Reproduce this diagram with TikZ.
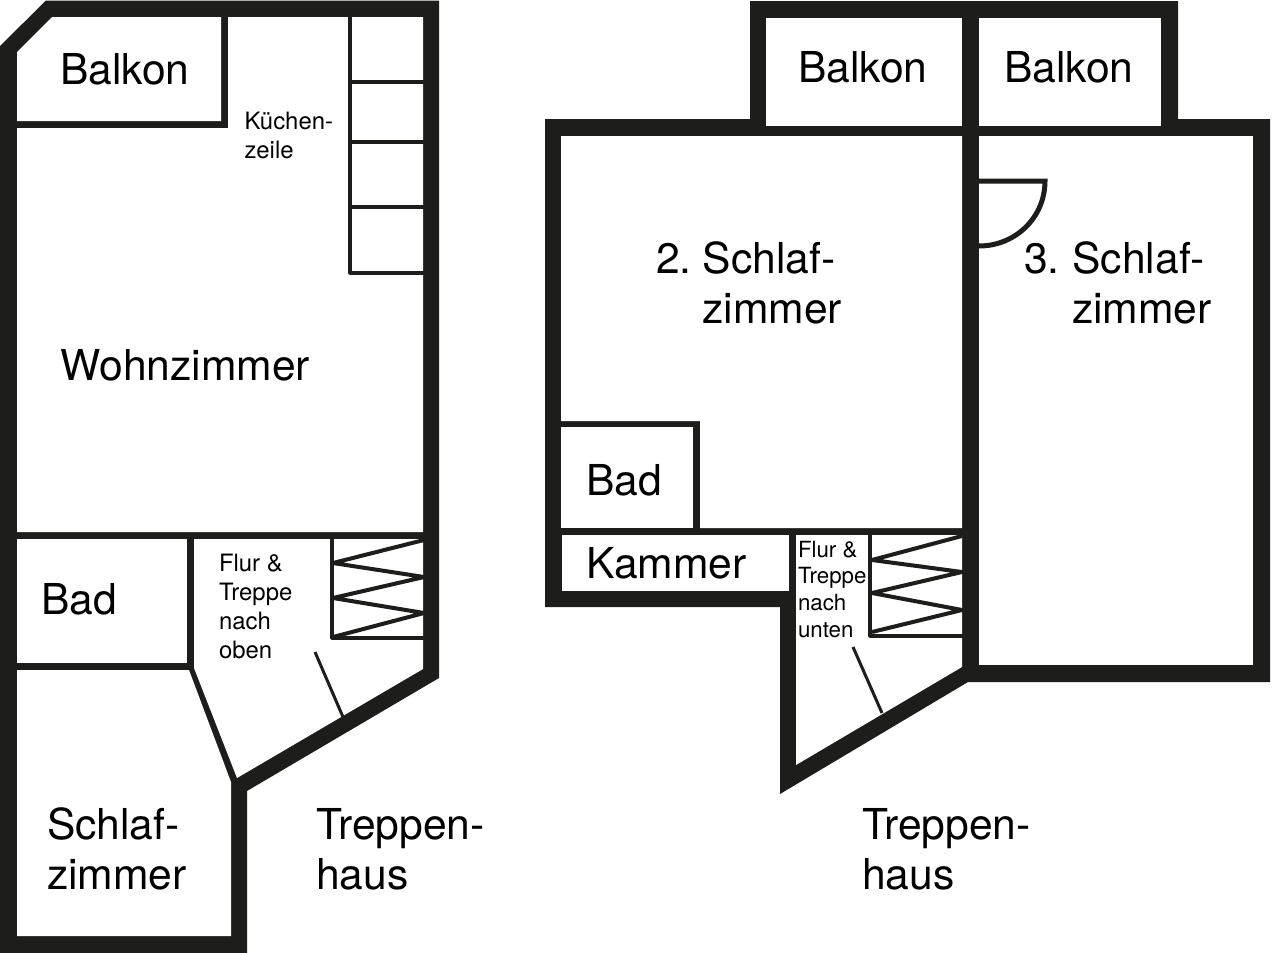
\documentclass[tikz,border=0pt]{standalone}
\usepackage{fontspec}
\setmainfont{TeX Gyre Heros}
\definecolor{wall}{HTML}{1D1D1B}
\newcommand{\lnA}{\rule{0pt}{1em}}
\tikzset{
  shell/.style={fill=wall,draw=none},
  room/.style={fill=white,draw=none},
  thinline/.style={draw=wall,line width=3.2pt,line join=round},
  zigline/.style={draw=wall,line width=4pt,line join=round},
  bigtext/.style={inner sep=0pt,outer sep=0pt,align=left,font=\fontsize{42.6}{50}\selectfont},
  smalltext/.style={inner sep=0pt,outer sep=0pt,align=left,font=\fontsize{23.9}{29}\selectfont},
  midtext/.style={inner sep=0pt,outer sep=0pt,align=left,font=\fontsize{22.3}{26.7}\selectfont},
}
\begin{document}
\begin{tikzpicture}[x=1pt,y=-1pt]
\useasboundingbox (0,0) rectangle (1280,953);
\fill[white] (0,0) rectangle (1280,953);
% left plan
\path[shell] (0,46)--(46,0.5)--(439,0.5)--(439,678)--(247,791)--(247,953)--(0,953)--cycle;
\path[room] (52,17)--(221,17)--(221,121)--(17,121)--(17,52)--cycle;
\path[room] (228,17)--(423,17)--(423,532)--(17,532)--(17,128)--(228,128)--cycle;
\path[room] (17,539) rectangle (187,663);
\path[room] (194,539)--(423,539)--(423,669)--(237,778)--(194,668)--cycle;
\path[room] (17,670)--(189,670)--(231,782)--(231,936)--(17,936)--cycle;
% kitchen units
\draw[thinline] (350,17)--(350,273)--(424,273);
\draw[thinline] (350,82)--(424,82) (350,142)--(424,142) (350,207)--(424,207);
% stairs up
\draw[thinline] (332,539)--(332,638)--(424,638);
\draw[zigline] (424,540)--(333,563)--(424,577)--(333,598)--(424,613)--(333,637);
% door
\draw[draw=wall,line width=3pt] (315,652)--(343,717);
% right plan
\path[shell] (750,1)--(1178,1)--(1178,119)--(1270,119)--(1270,682)--(968,682)--(780,794)--(780,607)--(545,607)--(545,119)--(750,119)--cycle;
\path[room] (766,18) rectangle (962,126);
\path[room] (979,18) rectangle (1161,126);
\path[room] (561,136)--(962,136)--(962,528)--(700,528)--(700,421)--(561,421)--cycle;
\path[room] (561,427) rectangle (693,528);
\path[room] (979,136) rectangle (1253,665);
\path[room] (562,535) rectangle (789,591);
\path[room] (796,535)--(962,535)--(962,667)--(796,765)--cycle;
% door swing
\draw[draw=wall,line width=5pt] (979,181)--(1045,181) .. controls (1045,217.5) and (1015.5,246) .. (979,246);
% stairs down
\draw[thinline] (870,535)--(870,636)--(963,636);
\draw[zigline] (962,536)--(872,560)--(962,572)--(872,593)--(962,610)--(872,632);
\draw[draw=wall,line width=3pt] (853,647)--(882,713);
% labels: left plan
\node[bigtext,anchor=base west] (balkonA) at (60,84) {Balkon};
\node[smalltext,anchor=north west] (kueche) at (244.5,105.3) {\lnA Küchen-\\zeile};
\node[bigtext,anchor=base west] (wohn) at (60.5,380) {Wohnzimmer};
\node[bigtext,anchor=base west] (badA) at (41.5,614) {Bad};
\node[smalltext,anchor=north west] (flurA) at (219,547.3) {\lnA Flur \&\\Treppe\\nach\\oben};
\node[bigtext,anchor=north west] (schlafA) at (47,796.4) {\lnA Schlaf-\\zimmer};
\node[bigtext,anchor=north west] (treppeA) at (316,796.4) {\lnA Treppen-\\haus};
% labels: right plan
\node[bigtext,anchor=base west] (balkonB) at (798,82) {Balkon};
\node[bigtext,anchor=base west] (balkonC) at (1004,82) {Balkon};
\node[bigtext,anchor=north west] (schlafB) at (656,230.4) {\lnA 2.\hspace*{11.5pt}Schlaf-\\\hspace*{46.5pt}zimmer};
\node[bigtext,anchor=north west] (schlafC) at (1024,230.4) {\lnA 3.\hspace*{13pt}Schlaf-\\\hspace*{48pt}zimmer};
\node[bigtext,anchor=base west] (badB) at (586,495) {Bad};
\node[bigtext,anchor=base west] (kammer) at (586,578) {Kammer};
\node[midtext,anchor=north west] (flurB) at (798,534.7) {\lnA Flur \&\\Treppe\\nach\\unten};
\node[bigtext,anchor=north west] (treppeB) at (862,796.4) {\lnA Treppen-\\haus};
\end{tikzpicture}
\end{document}
